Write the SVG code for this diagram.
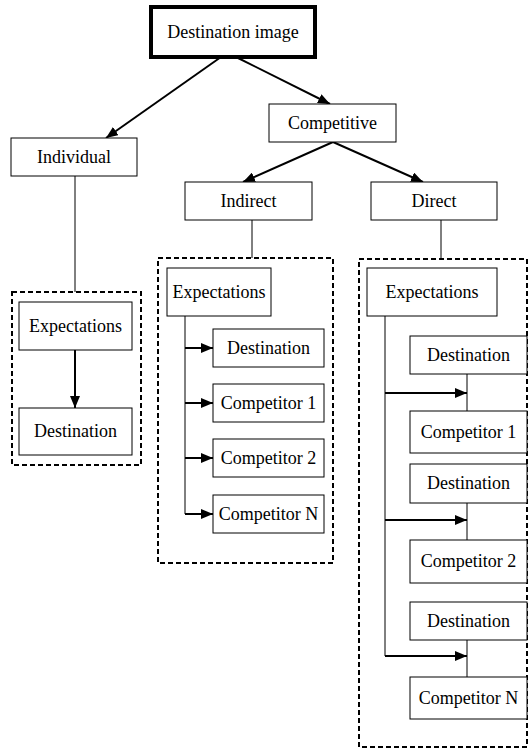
<svg xmlns="http://www.w3.org/2000/svg" width="531" height="749" viewBox="0 0 531 749">
<style>
.box{fill:#fff;stroke:#000;stroke-width:1}
.top{fill:#fff;stroke:#000;stroke-width:4}
.dash{fill:none;stroke:#000;stroke-width:2;stroke-dasharray:5 3}
.t{font-family:"Liberation Serif","Times New Roman",serif;font-size:18px;text-anchor:middle;fill:#000}
.ln{stroke:#000;stroke-width:1;fill:none}
.ar{stroke:#000;stroke-width:2;fill:none;marker-end:url(#ah)}
</style>
<defs>
<marker id="ah" markerUnits="userSpaceOnUse" markerWidth="12" markerHeight="10" refX="12" refY="5" orient="auto">
<path d="M0,0 L12,5 L0,10 Z" fill="#000"/>
</marker>
</defs>
<g id="connectors">
<line class="ar" x1="221" y1="57" x2="106" y2="138"/>
<line class="ar" x1="236" y1="57" x2="330" y2="104"/>
<line class="ar" x1="333" y1="142" x2="243" y2="182"/>
<line class="ar" x1="333" y1="142" x2="423" y2="182"/>
<line class="ln" x1="75" y1="176" x2="75" y2="292"/>
<line class="ar" x1="75" y1="350" x2="75" y2="408"/>
<line class="ln" x1="252" y1="220" x2="252" y2="258"/>
<line class="ln" x1="185" y1="316" x2="185" y2="514"/>
<line class="ar" x1="185" y1="348" x2="213" y2="348"/>
<line class="ar" x1="185" y1="403" x2="213" y2="403"/>
<line class="ar" x1="185" y1="458" x2="213" y2="458"/>
<line class="ar" x1="185" y1="514" x2="213" y2="514"/>
<line class="ln" x1="441" y1="220" x2="441" y2="259"/>
<line class="ln" x1="385" y1="316" x2="385" y2="656"/>
<line class="ln" x1="467" y1="374" x2="467" y2="411"/>
<line class="ln" x1="467" y1="503" x2="467" y2="540"/>
<line class="ln" x1="467" y1="640" x2="467" y2="677"/>
<line class="ar" x1="385" y1="393" x2="467" y2="393"/>
<line class="ar" x1="385" y1="520" x2="467" y2="520"/>
<line class="ar" x1="385" y1="656" x2="467" y2="656"/>
</g>
<g id="group-individual"><rect class="dash" x="12" y="292" width="129" height="173"/></g>
<g id="group-indirect"><rect class="dash" x="158" y="258" width="175" height="305"/></g>
<g id="group-direct"><rect class="dash" x="359" y="259" width="168" height="488"/></g>
<g id="destination-image"><rect class="top" x="151" y="7" width="164" height="50"/><text class="t" x="233" y="38">Destination image</text></g>
<g id="competitive"><rect class="box" x="269" y="104" width="127" height="38"/><text class="t" x="332.5" y="129">Competitive</text></g>
<g id="individual"><rect class="box" x="11" y="138" width="126" height="38"/><text class="t" x="74" y="163">Individual</text></g>
<g id="indirect"><rect class="box" x="185" y="182" width="127" height="38"/><text class="t" x="248.5" y="207">Indirect</text></g>
<g id="direct"><rect class="box" x="371" y="182" width="126" height="38"/><text class="t" x="434" y="207">Direct</text></g>
<g id="ind-expectations"><rect class="box" x="19" y="302" width="113" height="48"/><text class="t" x="75.5" y="332">Expectations</text></g>
<g id="ind-destination"><rect class="box" x="19" y="408" width="113" height="47"/><text class="t" x="75.5" y="437">Destination</text></g>
<g id="indir-expectations"><rect class="box" x="167" y="268" width="104" height="48"/><text class="t" x="219" y="298">Expectations</text></g>
<g id="indir-destination"><rect class="box" x="213" y="329" width="111" height="38"/><text class="t" x="268.5" y="354">Destination</text></g>
<g id="indir-competitor1"><rect class="box" x="213" y="384" width="111" height="38"/><text class="t" x="268.5" y="409">Competitor 1</text></g>
<g id="indir-competitor2"><rect class="box" x="213" y="439" width="111" height="38"/><text class="t" x="268.5" y="464">Competitor 2</text></g>
<g id="indir-competitorN"><rect class="box" x="213" y="495" width="111" height="38"/><text class="t" x="268.5" y="520">Competitor N</text></g>
<g id="dir-expectations"><rect class="box" x="367" y="268" width="130" height="48"/><text class="t" x="432" y="298">Expectations</text></g>
<g id="dir-destination1"><rect class="box" x="410" y="336" width="117" height="38"/><text class="t" x="468.5" y="361">Destination</text></g>
<g id="dir-competitor1"><rect class="box" x="410" y="411" width="117" height="42"/><text class="t" x="468.5" y="438">Competitor 1</text></g>
<g id="dir-destination2"><rect class="box" x="410" y="464" width="117" height="39"/><text class="t" x="468.5" y="489">Destination</text></g>
<g id="dir-competitor2"><rect class="box" x="410" y="540" width="117" height="43"/><text class="t" x="468.5" y="567">Competitor 2</text></g>
<g id="dir-destination3"><rect class="box" x="410" y="602" width="117" height="38"/><text class="t" x="468.5" y="627">Destination</text></g>
<g id="dir-competitorN"><rect class="box" x="410" y="677" width="117" height="42"/><text class="t" x="468.5" y="704">Competitor N</text></g>
</svg>
